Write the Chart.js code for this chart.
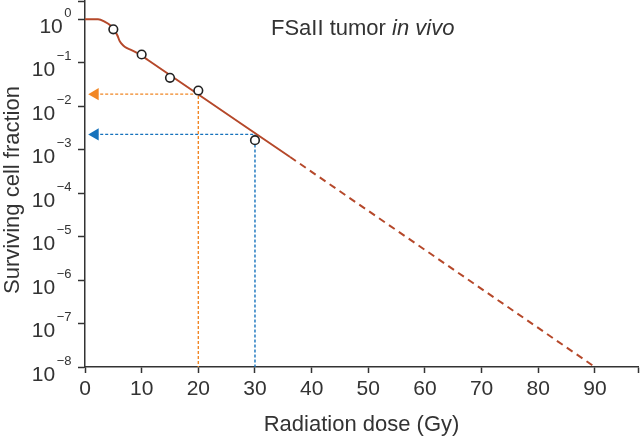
<!DOCTYPE html>
<html>
<head>
<meta charset="utf-8">
<script src="https://cdn.jsdelivr.net/npm/chart.js@4"></script>
<style>
  body { margin: 0; background: #fff; }
  canvas { display: block; }
</style>
</head>
<body>
<canvas id="survivalChart" width="641" height="438"></canvas>
<script>
// Measured points (circles)
const doses = [5, 10, 15, 20, 30];
const survival = [0.59, 0.155, 0.045, 0.023, 0.00166];

// Fitted curve (solid part)
const curveDose = [0, 2.3, 3.5, 4.4, 5.1, 5.7, 6.1, 6.4, 7.0, 8.2, 9.7, 11.1, 36.2];
const curveFraction = [1.0, 1.0, 0.88, 0.74, 0.57, 0.43, 0.32, 0.28, 0.234, 0.196, 0.156, 0.116, 0.00068];

// Extrapolated part (dashed)
const extraDose = [36.2, 90];
const extraFraction = [0.00068, 1e-8];

// Guide lines with arrows: [arrow tip end, corner, axis]
const orangeDose = [1.8, 20, 20];
const orangeFraction = [0.019, 0.019, 1e-8];
const blueDose = [1.8, 30, 30];
const blueFraction = [0.00225, 0.00225, 1e-8];

// Axes
const xTicks = [0, 10, 20, 30, 40, 50, 60, 70, 80, 90];
const xMax = 97.6;
const yExponents = [0, -1, -2, -3, -4, -5, -6, -7, -8];
const yMax = 2.64;

const FONT = '"Liberation Sans", Arial, sans-serif';
const TEXT = '#333333';
const CURVE = 'rgb(181, 72, 42)';
const ORANGE = 'rgb(241, 134, 36)';
const BLUE = 'rgb(22, 114, 188)';

function toPoints(xs, ys) {
    return xs.map((x, i) => ({ x: x, y: ys[i] }));
}

// Draw y tick labels as 10 with superscript, plus titles
const textPlugin = {
    id: 'textPlugin',
    afterDraw(chart) {
        const ctx = chart.ctx;
        const yScale = chart.scales.y;
        ctx.save();
        ctx.fillStyle = TEXT;
        ctx.textAlign = 'right';
        ctx.textBaseline = 'alphabetic';

        yExponents.forEach(k => {
            const py = yScale.getPixelForValue(Math.pow(10, k));
            const exp = k === 0 ? '0' : '\u2212' + (-k);
            ctx.font = '13px ' + FONT;
            const w = ctx.measureText(exp).width;
            ctx.fillText(exp, 71.5, py - 2.5);
            ctx.font = '21px ' + FONT;
            ctx.fillText('10', 71.5 - w - 1.5, py + 13.5);
        });

        // y axis title
        ctx.save();
        ctx.translate(18.5, 190);
        ctx.rotate(-Math.PI / 2);
        ctx.textAlign = 'center';
        ctx.font = '22px ' + FONT;
        ctx.fillText('Surviving cell fraction', 0, 0);
        ctx.restore();

        // Chart title, part italic
        ctx.textAlign = 'left';
        ctx.font = '22px ' + FONT;
        const first = 'FSaII tumor ';
        ctx.fillText(first, 271, 35);
        const w1 = ctx.measureText(first).width;
        ctx.font = 'italic 22px ' + FONT;
        ctx.fillText('in vivo', 271 + w1, 35);
        ctx.restore();
    }
};

const ctx = document.getElementById('survivalChart').getContext('2d');

new Chart(ctx, {
    type: 'line',
    data: {
        datasets: [
            {
                label: 'Measured',
                data: toPoints(doses, survival),
                showLine: false,
                pointRadius: 4.3,
                pointBorderWidth: 1.6,
                pointBorderColor: '#222222',
                pointBackgroundColor: '#ffffff'
            },
            {
                label: 'Fit',
                data: toPoints(curveDose, curveFraction),
                borderColor: CURVE,
                borderWidth: 2,
                pointRadius: 0,
                cubicInterpolationMode: 'monotone'
            },
            {
                label: 'Extrapolation',
                data: toPoints(extraDose, extraFraction),
                borderColor: CURVE,
                borderWidth: 2,
                borderDash: [7, 5],
                pointRadius: 0
            },
            {
                label: '20 Gy',
                data: toPoints(orangeDose, orangeFraction),
                borderColor: ORANGE,
                borderWidth: 1.4,
                borderDash: [3, 2],
                pointStyle: 'triangle',
                pointRotation: -90,
                pointRadius: [7, 0, 0],
                pointBorderWidth: 0,
                pointBackgroundColor: ORANGE,
                pointBorderColor: ORANGE
            },
            {
                label: '30 Gy',
                data: toPoints(blueDose, blueFraction),
                borderColor: BLUE,
                borderWidth: 1.4,
                borderDash: [3, 2],
                pointStyle: 'triangle',
                pointRotation: -90,
                pointRadius: [7, 0, 0],
                pointBorderWidth: 0,
                pointBackgroundColor: BLUE,
                pointBorderColor: BLUE
            }
        ]
    },
    options: {
        responsive: false,
        animation: false,
        devicePixelRatio: 1,
        layout: {
            autoPadding: false,
            padding: { top: 1, right: 3, left: 0, bottom: 0 }
        },
        plugins: {
            legend: { display: false },
            tooltip: { enabled: false }
        },
        scales: {
            x: {
                type: 'linear',
                min: 0,
                max: xMax,
                afterBuildTicks: scale => {
                    scale.ticks = xTicks.concat([xMax]).map(v => ({ value: v }));
                },
                afterFit: scale => {
                    scale.height = 71;
                    scale.paddingLeft = 0;
                    scale.paddingRight = 0;
                },
                ticks: {
                    autoSkip: false,
                    maxRotation: 0,
                    padding: 4,
                    color: TEXT,
                    font: { family: FONT, size: 21 },
                    callback: v => (xTicks.includes(v) ? String(v) : '')
                },
                grid: {
                    drawOnChartArea: false,
                    tickLength: 6,
                    tickWidth: 1.5,
                    color: '#333333'
                },
                border: { color: '#333333', width: 1.5 },
                title: {
                    display: true,
                    text: 'Radiation dose (Gy)',
                    color: TEXT,
                    font: { family: FONT, size: 22 },
                    padding: { top: 6, bottom: 0 }
                }
            },
            y: {
                type: 'logarithmic',
                min: 1e-8,
                max: yMax,
                afterBuildTicks: scale => {
                    scale.ticks = yExponents.map(k => ({ value: Math.pow(10, k) })).concat([{ value: yMax }]);
                },
                afterFit: scale => {
                    scale.width = 85;
                    scale.paddingTop = 0;
                    scale.paddingBottom = 0;
                },
                ticks: {
                    font: { size: 1 },
                    callback: () => ''
                },
                grid: {
                    drawOnChartArea: false,
                    tickLength: 7,
                    tickWidth: 1.5,
                    color: '#333333'
                },
                border: { color: '#333333', width: 1.5 }
            }
        }
    },
    plugins: [textPlugin]
});
</script>
</body>
</html>
